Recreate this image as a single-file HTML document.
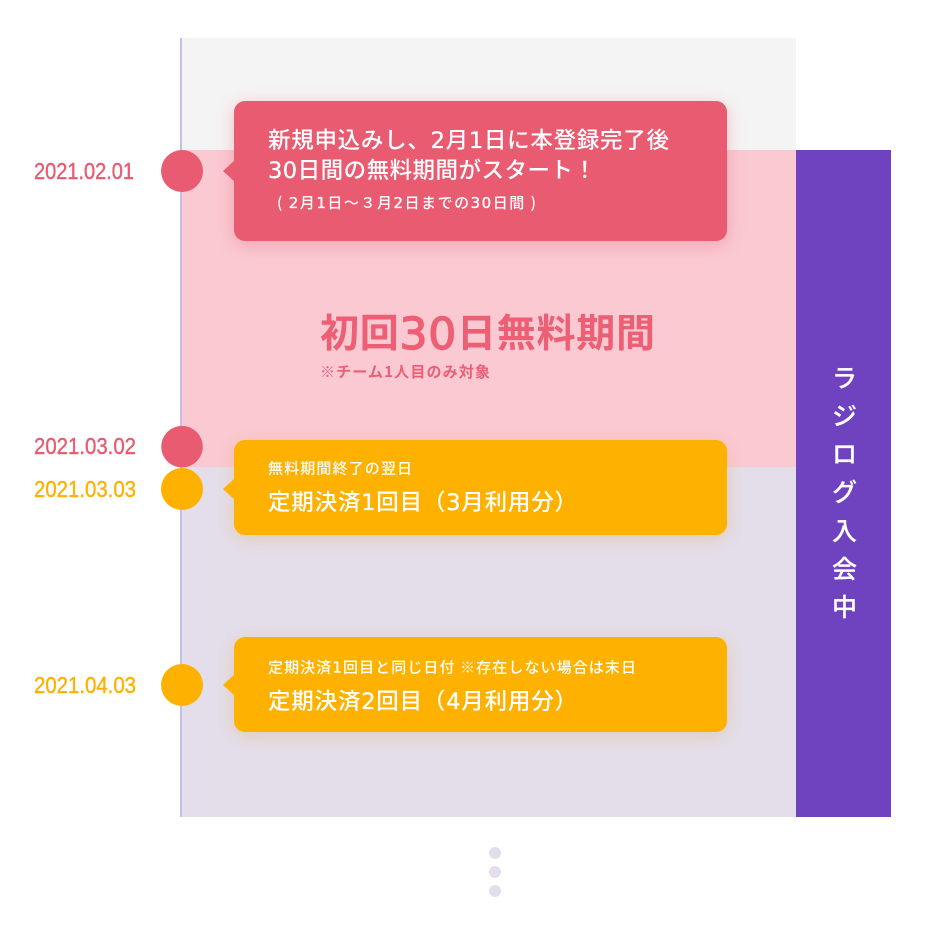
<!DOCTYPE html>
<html lang="ja">
<head>
<meta charset="utf-8">
<style>
html,body{margin:0;padding:0;background:#fff;width:927px;height:925px;overflow:hidden}
svg{display:block}
text{font-family:"Noto Sans CJK JP",sans-serif}
.w{fill:#fff;font-weight:500}
.v{fill:#fff;font-weight:500;stroke:#fff;stroke-width:.15}
.n{font-family:"DejaVu Sans",sans-serif;stroke:#fff;stroke-width:.35;font-weight:400}
.d{font-size:23px;font-family:"Liberation Sans",sans-serif;stroke-width:.4}
.t{font-family:"DejaVu Sans",sans-serif;stroke:#ec5f75;stroke-width:1.4;font-size:44px;font-weight:400}
</style>
</head>
<body>
<svg width="927" height="925" viewBox="0 0 927 925" xmlns="http://www.w3.org/2000/svg">
<defs>
<filter id="b" x="-10%" y="-30%" width="120%" height="160%" color-interpolation-filters="sRGB">
<feGaussianBlur stdDeviation="9"/>
</filter>
</defs>
<rect x="180" y="38" width="616" height="112" fill="#f4f4f4"/>
<rect x="180" y="150" width="616" height="317" fill="#fac9d2"/>
<rect x="180" y="467" width="616" height="350" fill="#e4deea"/>
<rect x="180" y="38" width="2" height="779" fill="#c9bce8"/>
<rect x="796" y="150" width="95" height="667" fill="#6f42bf"/>

<circle cx="182" cy="171" r="21" fill="#e95b71"/>
<circle cx="182" cy="446.7" r="20.8" fill="#e95b71"/>
<circle cx="182" cy="489" r="21" fill="#ffb100"/>
<circle cx="182" cy="685" r="21" fill="#ffb100"/>

<text class="d" x="34" y="179" fill="#e95b71" stroke="#e95b71" textLength="100" lengthAdjust="spacingAndGlyphs">2021.02.01</text>
<text class="d" x="34" y="454" fill="#e95b71" stroke="#e95b71" textLength="102" lengthAdjust="spacingAndGlyphs">2021.03.02</text>
<text class="d" x="34" y="497" fill="#ffb100" stroke="#ffb100" textLength="102" lengthAdjust="spacingAndGlyphs">2021.03.03</text>
<text class="d" x="34" y="693" fill="#ffb100" stroke="#ffb100" textLength="102" lengthAdjust="spacingAndGlyphs">2021.04.03</text>

<rect x="234" y="105" width="493" height="140" rx="11" fill="#e95b71" opacity=".35" filter="url(#b)"/>
<rect x="234" y="444" width="493" height="95" rx="11" fill="#d9a040" opacity=".3" filter="url(#b)"/>
<rect x="234" y="641" width="493" height="95" rx="11" fill="#d9a040" opacity=".3" filter="url(#b)"/>

<rect x="234" y="101" width="493" height="140" rx="11" fill="#e95b71"/>
<path d="M235 160L223 171L235 182Z" fill="#e95b71"/>
<rect x="234" y="440" width="493" height="95" rx="11" fill="#ffb100"/>
<path d="M235 478L223 489L235 500Z" fill="#ffb100"/>
<rect x="234" y="637" width="493" height="95" rx="11" fill="#ffb100"/>
<path d="M235 674L223 685L235 696Z" fill="#ffb100"/>

<text class="w" x="268" y="148" font-size="22.5" textLength="401">新規申込みし、<tspan class="n">2</tspan>月<tspan class="n">1</tspan>日に本登録完了後</text>
<text class="w" x="268" y="178" font-size="22.5" textLength="328"><tspan class="n">30</tspan>日間の無料期間がスタート！</text>
<text class="w" x="277" y="208" font-size="15" textLength="259">( <tspan class="n">2</tspan>月<tspan class="n">1</tspan>日〜３月<tspan class="n">2</tspan>日までの<tspan class="n">30</tspan>日間 )</text>

<text x="320" y="347" font-size="39" font-weight="700" fill="#ec5f75" textLength="335">初回<tspan class="t" dy="2">30</tspan><tspan dy="-2">日無料期間</tspan></text>
<text x="320" y="377" font-size="15" font-weight="700" fill="#ec5f75" textLength="170">※チーム1人目のみ対象</text>

<text class="w" x="268" y="473.5" font-size="15" textLength="144">無料期間終了の翌日</text>
<text class="w" x="268" y="510" font-size="22.5" textLength="309">定期決済<tspan class="n">1</tspan>回目（<tspan class="n">3</tspan>月利用分）</text>
<text class="w" x="268" y="672.5" font-size="15" textLength="368">定期決済<tspan class="n">1</tspan>回目と同じ日付 ※存在しない場合は末日</text>
<text class="w" x="268" y="709" font-size="22.5" textLength="309">定期決済<tspan class="n">2</tspan>回目（<tspan class="n">4</tspan>月利用分）</text>

<g font-size="25">
<text class="v" x="844.5" y="387" text-anchor="middle">ラ</text>
<text class="v" x="844.5" y="425" text-anchor="middle">ジ</text>
<text class="v" x="844.5" y="463" text-anchor="middle">ロ</text>
<text class="v" x="844.5" y="501" text-anchor="middle">グ</text>
<text class="v" x="844.5" y="540" text-anchor="middle">入</text>
<text class="v" x="844.5" y="578" text-anchor="middle">会</text>
<text class="v" x="844.5" y="616" text-anchor="middle">中</text>
</g>

<circle cx="495" cy="853" r="6" fill="#e4deea"/>
<circle cx="495" cy="872" r="6" fill="#e4deea"/>
<circle cx="495" cy="891" r="6" fill="#e4deea"/>
</svg>
</body>
</html>
